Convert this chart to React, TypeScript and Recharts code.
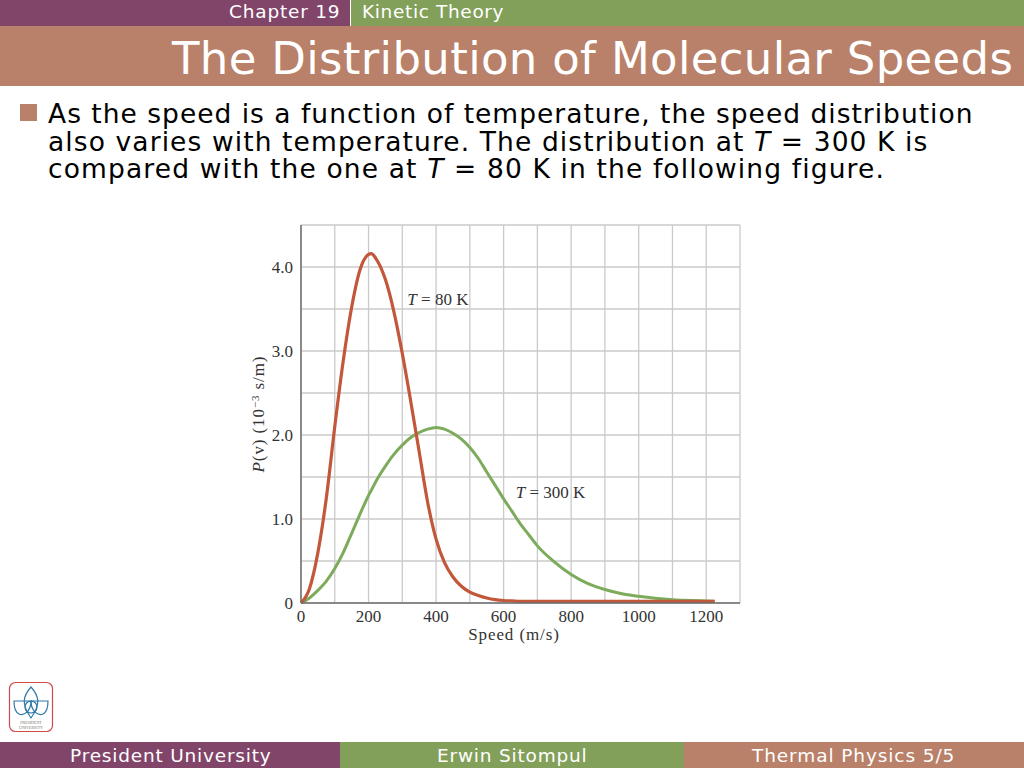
import { CartesianGrid, Line, LineChart, ReferenceDot, XAxis, YAxis } from "recharts"

const speeds = [0, 25, 50, 75, 100, 125, 150, 175, 200, 208, 225, 250, 275, 300, 325, 350, 375, 400, 425, 450, 475, 500, 525, 550, 575, 600, 625, 650, 675, 700, 750, 800, 850, 900, 950, 1000, 1100, 1200, 1225]
const coldValues = [0, 0.17, 0.6, 1.25, 2.1, 2.88, 3.52, 3.97, 4.15, 4.16, 4.08, 3.85, 3.47, 2.97, 2.4, 1.8, 1.2, 0.76, 0.48, 0.31, 0.2, 0.13, 0.09, 0.06, 0.04, 0.03, 0.025, 0.02, 0.02, 0.02, 0.02, 0.02, 0.02, 0.02, 0.02, 0.02, 0.02, 0.02, 0.02]
const warmValues = [0, 0.06, 0.15, 0.26, 0.41, 0.6, 0.83, 1.06, 1.28, 1.34, 1.47, 1.63, 1.77, 1.88, 1.97, 2.03, 2.07, 2.09, 2.07, 2.02, 1.95, 1.85, 1.72, 1.56, 1.4, 1.24, 1.09, 0.94, 0.81, 0.68, 0.49, 0.34, 0.23, 0.16, 0.11, 0.08, 0.04, 0.025, 0.02]

const xTicks = [0, 100, 200, 300, 400, 500, 600, 700, 800, 900, 1000, 1100, 1200]
const yTicks = [0, 0.5, 1, 1.5, 2, 2.5, 3, 3.5, 4, 4.5]

const chartData = speeds.map((speed, i) => ({ speed, cold: coldValues[i], warm: warmValues[i] }))

const PURPLE = "#82456a"
const GREEN = "#83a05a"
const RUST = "#b9806a"
const SERIF = "'Liberation Serif', serif"
const SANS = "'DejaVu Sans', sans-serif"

const bodyLines = [
  <>As the speed is a function of temperature, the speed distribution</>,
  <>also varies with temperature. The distribution at <i>T</i> = 300 K is</>,
  <>compared with the one at <i>T</i> = 80 K in the following figure.</>,
]
const bodySpacing = [1, 1.1, 1.13]

function Band({ x, y, w, h, color }: { x: number; y: number; w: number; h: number; color: string }) {
  return <div style={{ position: "absolute", left: x, top: y, width: w, height: h, background: color }} />
}

function Caption({ x, y, size, text, spacing = 0.8 }: { x: number; y: number; size: number; text: string; spacing?: number }) {
  return (
    <div style={{ position: "absolute", left: x, top: y, fontFamily: SANS, fontSize: size, letterSpacing: spacing, color: "#fff", whiteSpace: "nowrap", lineHeight: 1 }}>
      {text}
    </div>
  )
}

function Logo() {
  return (
    <svg width={48} height={54} style={{ position: "absolute", left: 7, top: 680 }}>
      <rect x={2.5} y={2.5} width={43} height={49} rx={6} fill="#fff" stroke="#cf4a4a" strokeWidth={1.2} />
      <g fill="none" stroke="#2f78a8" strokeWidth={1.2}>
        <path d="M24 7 C16 16 14 24 24 38 C34 24 32 16 24 7 Z" />
        <path d="M7 21 L24 21 C24 32 16 36 12 34 C8 32 7 26 7 21 Z" />
        <path d="M41 21 L24 21 C24 32 32 36 36 34 C40 32 41 26 41 21 Z" />
        <circle cx={24} cy={27} r={6} />
      </g>
      <text x={24} y={44} textAnchor="middle" fontFamily={SERIF} fontSize={4} fill="#777">PRESIDENT</text>
      <text x={24} y={49} textAnchor="middle" fontFamily={SERIF} fontSize={4} fill="#777">UNIVERSITY</text>
    </svg>
  )
}

function CurveLabel({ viewBox, value }: any) {
  return (
    <text x={viewBox.x} y={viewBox.y} fontFamily={SERIF} fontSize={17} fill="#333">
      <tspan fontStyle="italic">T</tspan> = {value} K
    </text>
  )
}

function YAxisTitle() {
  return (
    <text transform="translate(264 414) rotate(-90)" textAnchor="middle" fontFamily={SERIF} fontSize={17} letterSpacing={0.9} fill="#333">
      <tspan fontStyle="italic">P</tspan>(v)  (10
      <tspan fontSize={11} dy={-5}>−3</tspan>
      <tspan dy={5}> s/m)</tspan>
    </text>
  )
}

export default function App() {
  return (
    <div style={{ position: "absolute", left: 0, top: 0, width: 1024, height: 768, background: "#fff", overflow: "hidden" }}>
      <Band x={0} y={0} w={350} h={26} color={PURPLE} />
      <Band x={351} y={0} w={673} h={26} color={GREEN} />
      <Band x={0} y={26} w={1024} h={60} color={RUST} />
      <Caption x={229} y={3} size={18.5} text="Chapter 19" />
      <Caption x={362} y={3} size={18.5} spacing={0.65} text="Kinetic Theory" />
      <Caption x={172} y={36} size={45} spacing={0.32} text="The Distribution of Molecular Speeds" />

      <Band x={20} y={104} w={17} h={17} color={RUST} />
      {bodyLines.map((line, i) => (
        <div
          key={i}
          style={{ position: "absolute", left: 48, top: 100 + i * 27.5, height: 27, fontFamily: SANS, fontSize: 26.5, letterSpacing: bodySpacing[i], color: "#000", whiteSpace: "nowrap", lineHeight: "27px" }}
        >
          {line}
        </div>
      ))}

      <div style={{ position: "absolute", left: 0, top: 0 }}>
        <LineChart width={1024} height={768} data={chartData} margin={{ top: 225, right: 284, bottom: 125, left: 241 }}>
          <CartesianGrid stroke="#cacaca" strokeWidth={1.3} />
          <XAxis
            type="number"
            dataKey="speed"
            domain={[0, 1300]}
            ticks={xTicks}
            interval={0}
            height={40}
            tickLine={false}
            tickMargin={1}
            tickFormatter={(v: number) => (v % 200 === 0 ? String(v) : "")}
            tick={{ fontFamily: SERIF, fontSize: 17, fill: "#333" }}
            axisLine={{ stroke: "#6e6e6e", strokeWidth: 1.5 }}
          />
          <YAxis
            type="number"
            domain={[0, 4.5]}
            ticks={yTicks}
            interval={0}
            width={60}
            tickLine={false}
            tickMargin={2}
            tickFormatter={(v: number) => (v === 0 ? "0" : v % 1 === 0 ? v.toFixed(1) : "")}
            tick={{ fontFamily: SERIF, fontSize: 17, fill: "#333" }}
            axisLine={{ stroke: "#6e6e6e", strokeWidth: 1.5 }}
          />
          <Line type="monotone" dataKey="warm" stroke="#7dab5c" strokeWidth={3} dot={false} isAnimationActive={false} />
          <Line type="monotone" dataKey="cold" stroke="#c2573a" strokeWidth={3.2} dot={false} isAnimationActive={false} />
          <ReferenceDot x={315} y={3.55} r={0} stroke="none" label={<CurveLabel value="80" />} />
          <ReferenceDot x={636} y={1.25} r={0} stroke="none" label={<CurveLabel value="300" />} />
          <YAxisTitle />
          <text x={514} y={640} textAnchor="middle" fontFamily={SERIF} fontSize={17} letterSpacing={0.9} fill="#333">Speed (m/s)</text>
        </LineChart>
      </div>

      <Logo />

      <Band x={0} y={742} w={340} h={26} color={PURPLE} />
      <Band x={340} y={742} w={344} h={26} color={GREEN} />
      <Band x={684} y={742} w={340} h={26} color={RUST} />
      <Caption x={70} y={747} size={18.5} text="President University" />
      <Caption x={437} y={747} size={18.5} text="Erwin Sitompul" />
      <Caption x={752} y={747} size={18.5} spacing={0.9} text="Thermal Physics 5/5" />
    </div>
  )
}
